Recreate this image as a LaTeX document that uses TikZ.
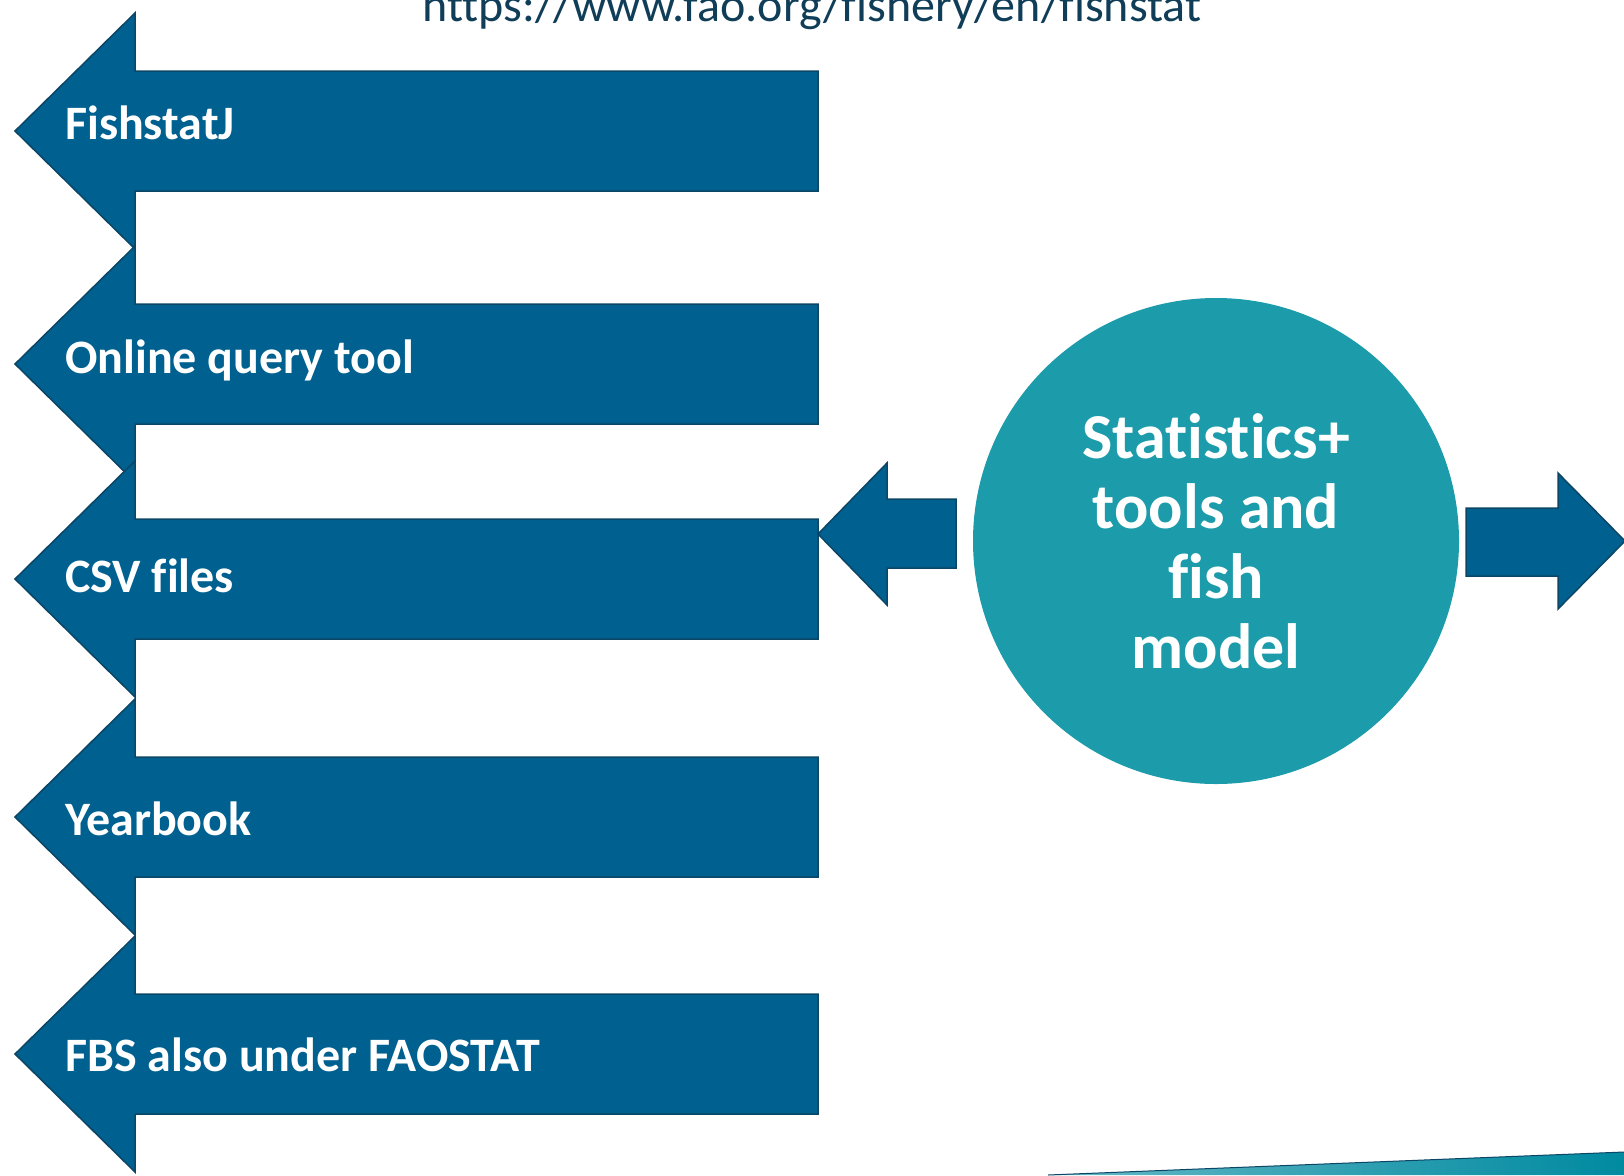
\documentclass[tikz,border=0pt]{standalone}
\usepackage{fontspec}
\setmainfont{Carlito}[Ligatures=CommonOff]

\definecolor{arrowblue}{RGB}{0,96,143}
\definecolor{arrowedge}{RGB}{12,70,102}
\definecolor{hubteal}{RGB}{28,155,170}
\definecolor{urlnavy}{RGB}{16,62,88}
\definecolor{stripeteal}{RGB}{0,138,160}

\tikzset{
    blockarrow/.style={fill=arrowblue, draw=arrowedge, line width=1.5pt, line join=miter},
    arrowlabel/.style={anchor=base west, inner sep=0pt, text=white, font=\fontsize{48}{57}\selectfont\bfseries},
    hublabel/.style={align=center, inner sep=0pt, text=white, font=\fontsize{64}{70}\selectfont\bfseries},
}

\begin{document}
\begin{tikzpicture}[x=1pt, y=-1pt]
            \useasboundingbox (0, 0) rectangle (1624, 1175);

            % address, cut off by the top edge
            \node[anchor=base, inner sep=0pt, text=urlnavy, font=\fontsize{48}{57}\selectfont] (url) at (812, 21) {https://www.fao.org/fishery/en/fishstat};

            % the five sources
            \foreach \c/\b/\lbl [count=\i] in {131/139/FishstatJ, 364/373/Online query tool, 579/592/CSV files, 817/835/Yearbook, 1054/1071/FBS also under FAOSTAT} {
                \draw[blockarrow] (15, \c) -- (135, \c - 118) -- (135, \c - 60) -- (818, \c - 60)
                    -- (818, \c + 60) -- (135, \c + 60) -- (135, \c + 118) -- cycle;
                \node[arrowlabel] (src\i) at (65, \b) {\lbl};
            }

            \node[circle, fill=hubteal, minimum size=486pt, inner sep=0pt] (hub) at (1216, 541) {};
            \node[hublabel] (hubtext) at (hub) {Statistics+\\tools and\\fish\\model};

            \draw[blockarrow] (818, 534) -- (887, 463) -- (887, 499) -- (956, 499) -- (956, 568) -- (887, 568) -- (887, 605) -- cycle;   % into the sources
            \draw[blockarrow] (1466, 508) -- (1558, 508) -- (1558, 473) -- (1625, 541) -- (1558, 609) -- (1558, 576) -- (1466, 576) -- cycle; % out of the page

            % band in the corner
            \shade[left color=stripeteal!60!white, right color=stripeteal] (1048, 1175) -- (1624, 1152) -- (1624, 1175) -- cycle;
            \draw[arrowedge, line width=1pt] (1048, 1175) -- (1624, 1152);
\end{tikzpicture}
\end{document}
